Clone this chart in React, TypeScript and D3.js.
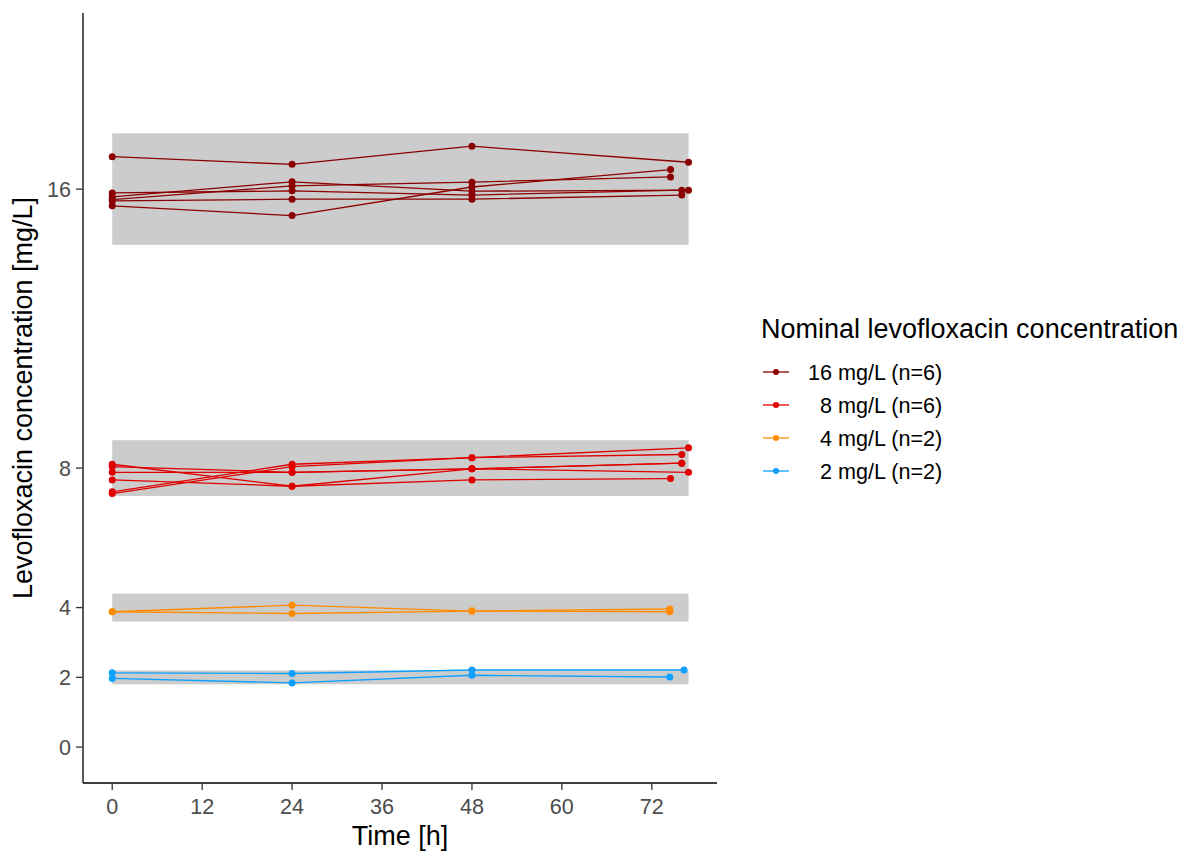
import React from 'react';
import * as d3 from 'd3';

// Nominal levels, legend text and colours
const nominalLevels = [16, 8, 4, 2];
const legendLabels = ['16 mg/L (n=6)', '  8 mg/L (n=6)', '  4 mg/L (n=2)', '  2 mg/L (n=2)'];
const groupColors = ['#8B0000', '#E00000', '#FF8C00', '#0DA0FF'];

// Scheduled sampling times (h); the final sample time differs per replicate
const sampleTimes = [0, 24, 48];

// Measured concentrations (mg/L) per replicate at 0, 24, 48 h and the final sample
const conc16 = [
  [16.93, 16.71, 17.23, 16.77],
  [15.89, 15.95, 15.83, 15.97],
  [15.78, 16.21, 15.94, 15.97],
  [15.7, 16.09, 16.2, 16.35],
  [15.66, 15.71, 15.71, 15.83],
  [15.52, 15.24, 16.06, 16.56],
];
const end16 = [76.9, 76.0, 76.9, 74.5, 76.0, 74.5];

const conc8 = [
  [8.11, 7.48, 7.66, 7.7],
  [7.66, 7.48, 7.98, 7.88],
  [7.32, 8.11, 8.3, 8.58],
  [7.27, 8.04, 8.3, 8.39],
  [8.04, 7.88, 7.98, 8.14],
  [7.88, 7.88, 7.98, 8.14],
];
const end8 = [74.5, 76.9, 76.9, 76.0, 76.0, 76.0];

const conc4 = [
  [3.88, 4.07, 3.9, 3.88],
  [3.88, 3.83, 3.9, 3.96],
];
const end4 = [74.4, 74.4];

const conc2 = [
  [2.13, 2.11, 2.21, 2.21],
  [1.97, 1.84, 2.06, 2.01],
];
const end2 = [76.3, 74.4];

// Axis ticks
const xTicks = [0, 12, 24, 36, 48, 60, 72];
const yTicks = [0, 2, 4, 8, 16];

const groupConc = [conc16, conc8, conc4, conc2];
const groupEnds = [end16, end8, end4, end2];

const W = 1182;
const H = 852;
const panel = { left: 83, right: 717, top: 13, bottom: 783 };
const FONT = '"Liberation Sans", Arial, sans-serif';
const titleSize = 27;
const textSize = 21.6;

type Pt = { t: number; c: number };

export default function App() {
  const x = d3.scaleLinear().domain([-3.9, 80.7]).range([panel.left, panel.right]);
  const y = d3.scaleLinear().domain([-1.03, 21.05]).range([panel.bottom, panel.top]);

  const series = groupConc.map((rows, g) =>
    rows.map((vals, r) =>
      vals.map((c, i): Pt => ({ t: i < sampleTimes.length ? sampleTimes[i] : groupEnds[g][r], c }))
    )
  );

  const maxT = d3.max(groupEnds.flat()) as number;
  const line = d3
    .line<Pt>()
    .x((d) => x(d.t))
    .y((d) => y(d.c));

  const legendX = 761;
  const legendKeyY = (i: number) => 372 + i * 33;

  return (
    <svg
      width={W}
      height={H}
      style={{ position: 'absolute', left: 0, top: 0, background: '#fff' }}
      fontFamily={FONT}
    >
      <rect x={0} y={0} width={W} height={H} fill="#fff" />

      {/* ±10 % acceptance bands around each nominal level */}
      {nominalLevels.map((n, g) => (
        <rect
          key={'band' + g}
          x={x(0)}
          y={y(n * 1.1)}
          width={x(maxT) - x(0)}
          height={y(n * 0.9) - y(n * 1.1)}
          fill="#CCCCCC"
        />
      ))}

      {/* replicate profiles */}
      {series.map((rows, g) =>
        rows.map((pts, r) => (
          <path
            key={`l${g}-${r}`}
            d={line(pts) as string}
            fill="none"
            stroke={groupColors[g]}
            strokeWidth={1.3}
          />
        ))
      )}
      {series.map((rows, g) =>
        rows.map((pts, r) =>
          pts.map((p, i) => (
            <circle key={`p${g}-${r}-${i}`} cx={x(p.t)} cy={y(p.c)} r={3.5} fill={groupColors[g]} />
          ))
        )
      )}

      {/* axes */}
      <line x1={panel.left} x2={panel.left} y1={panel.top} y2={panel.bottom} stroke="#000" strokeWidth={1.3} />
      <line x1={panel.left} x2={panel.right} y1={panel.bottom} y2={panel.bottom} stroke="#000" strokeWidth={1.3} />

      {yTicks.map((v) => (
        <g key={'yt' + v}>
          <line x1={panel.left - 7} x2={panel.left} y1={y(v)} y2={y(v)} stroke="#333" strokeWidth={1.3} />
          <text x={panel.left - 12} y={y(v)} dy="0.36em" textAnchor="end" fontSize={textSize} fill="#4D4D4D">
            {v}
          </text>
        </g>
      ))}
      {xTicks.map((v) => (
        <g key={'xt' + v}>
          <line x1={x(v)} x2={x(v)} y1={panel.bottom} y2={panel.bottom + 7} stroke="#333" strokeWidth={1.3} />
          <text x={x(v)} y={814} textAnchor="middle" fontSize={textSize} fill="#4D4D4D">
            {v}
          </text>
        </g>
      ))}

      <text x={(panel.left + panel.right) / 2} y={845} textAnchor="middle" fontSize={titleSize} fill="#000">
        Time [h]
      </text>
      <text
        transform={`translate(32, ${(panel.top + panel.bottom) / 2}) rotate(-90)`}
        textAnchor="middle"
        fontSize={titleSize}
        fill="#000"
      >
        Levofloxacin concentration [mg/L]
      </text>

      {/* legend */}
      <text x={legendX} y={338} fontSize={titleSize} fill="#000">
        Nominal levofloxacin concentration
      </text>
      {legendLabels.map((lab, i) => (
        <g key={'lg' + i}>
          <line
            x1={legendX + 2}
            x2={legendX + 28}
            y1={legendKeyY(i)}
            y2={legendKeyY(i)}
            stroke={groupColors[i]}
            strokeWidth={1.3}
          />
          <circle cx={legendX + 15} cy={legendKeyY(i)} r={3} fill={groupColors[i]} />
          <text
            x={808}
            y={legendKeyY(i)}
            dy="0.36em"
            fontSize={textSize}
            fill="#000"
            style={{ whiteSpace: 'pre' }}
          >
            {lab}
          </text>
        </g>
      ))}
    </svg>
  );
}
